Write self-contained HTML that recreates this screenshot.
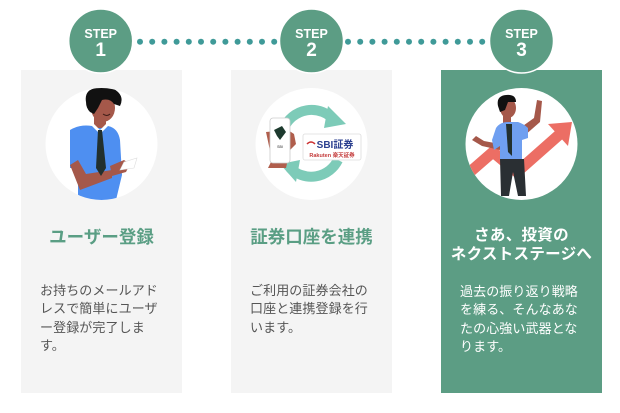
<!DOCTYPE html>
<html><head><meta charset="utf-8">
<style>
html,body{margin:0;padding:0;background:#fff;}
body{width:620px;height:413px;position:relative;overflow:hidden;font-family:"Liberation Sans","Noto Sans CJK JP",sans-serif;}
.card{position:absolute;top:70px;width:161px;height:323px;background:#f4f4f4;}
.t{position:absolute;white-space:nowrap;}
.title{font-weight:bold;font-size:17.5px;color:#5a9e84;text-align:center;width:161px;line-height:20px;}
.body{font-size:13px;color:#555;line-height:18.4px;letter-spacing:0.1px;}
.wt{color:#fff;}
svg{position:absolute;left:0;top:0;}
</style></head><body>
<div class="card" style="left:21px"></div>
<div class="card" style="left:231px"></div>
<div class="card" style="left:441px;background:#5c9d84"></div>

<svg width="620" height="413" viewBox="0 0 620 413">
  <!-- dots -->
  <g fill="#3f9a98">
    <circle cx="140" cy="41.7" r="3"/><circle cx="152.2" cy="41.7" r="3"/><circle cx="164.4" cy="41.7" r="3"/><circle cx="176.6" cy="41.7" r="3"/><circle cx="188.8" cy="41.7" r="3"/><circle cx="201" cy="41.7" r="3"/><circle cx="213.2" cy="41.7" r="3"/><circle cx="225.4" cy="41.7" r="3"/><circle cx="237.6" cy="41.7" r="3"/><circle cx="249.8" cy="41.7" r="3"/><circle cx="262" cy="41.7" r="3"/><circle cx="274.2" cy="41.7" r="3"/>
    <circle cx="348" cy="41.7" r="3"/><circle cx="360.2" cy="41.7" r="3"/><circle cx="372.4" cy="41.7" r="3"/><circle cx="384.6" cy="41.7" r="3"/><circle cx="396.8" cy="41.7" r="3"/><circle cx="409" cy="41.7" r="3"/><circle cx="421.2" cy="41.7" r="3"/><circle cx="433.4" cy="41.7" r="3"/><circle cx="445.6" cy="41.7" r="3"/><circle cx="457.8" cy="41.7" r="3"/><circle cx="470" cy="41.7" r="3"/><circle cx="482.2" cy="41.7" r="3"/>
  </g>
  <!-- step circles -->
  <g fill="#5c9d84" stroke="#fff" stroke-width="1.5">
    <circle cx="100.7" cy="41" r="32"/>
    <circle cx="311.5" cy="41" r="32"/>
    <circle cx="521.5" cy="41" r="32"/>
  </g>
  <g fill="#fff" font-family="Liberation Sans, sans-serif" font-weight="bold" text-anchor="middle">
    <text x="100.7" y="38" font-size="12.5">STEP</text>
    <text x="100.7" y="56" font-size="19">1</text>
    <text x="311.5" y="38" font-size="12.5">STEP</text>
    <text x="311.5" y="56" font-size="19">2</text>
    <text x="521.5" y="38" font-size="12.5">STEP</text>
    <text x="521.5" y="56" font-size="19">3</text>
  </g>
  <!-- illustration circles -->
  <circle cx="101.5" cy="144" r="56" fill="#fff"/>
  <circle cx="311.5" cy="144" r="56" fill="#fff"/>
  <circle cx="521.5" cy="144" r="56" fill="#fff"/>

  <!-- person 1 -->
  <defs><clipPath id="c1"><circle cx="101.5" cy="144" r="56"/></clipPath>
  <clipPath id="c3"><circle cx="521.5" cy="144" r="56"/></clipPath></defs>
  <g clip-path="url(#c1)">
    <path d="M70 130 Q80 124 92 126 L108 126 Q118 128 120 140 L122 175 L116 200 L78 200 L78 168 L70 168 Z" fill="#4e8ff1"/>
    <path d="M70 165 L80 190 L112 178 L112 170 L86 174 L78 160 Z" fill="#a5584a"/>
    <rect x="94" y="112" width="12" height="16" fill="#a5584a"/>
    <path d="M92 126 L100 134 L108 126 L106 124 L100 130 L94 124 Z" fill="#fff"/>
    <path d="M98 130 L102 130 L106 168 L101 176 L96 168 Z" fill="#22302e"/>
    <ellipse cx="103" cy="108" rx="12" ry="14" fill="#a5584a"/>
    <path d="M86 102 Q84 90 96 88 Q110 84 118 92 Q124 98 120 106 L114 104 Q110 98 102 100 L98 108 L94 114 L90 112 Q86 108 86 102 Z" fill="#111"/>
    <path d="M103 114 Q107 117 110 114" stroke="#3a1a14" stroke-width="1" fill="none"/>
    <path d="M110 166 L124 160 L130 164 L126 172 L112 176 Z" fill="#a5584a"/>
    <path d="M120 170 L124 162 L137 158 L134 168 Z" fill="#fff" stroke="#ddd" stroke-width="0.6"/>
  </g>

  <!-- step 2 -->
  <g>
    <path d="M284 128 A30 30 0 0 1 334 120" stroke="#7dcbb8" stroke-width="10" fill="none"/>
    <path d="M328 106 L346 124 L324 128 Z" fill="#7dcbb8"/>
    <path d="M338 160 A30 30 0 0 1 290 168" stroke="#7dcbb8" stroke-width="10" fill="none"/>
    <path d="M296 182 L280 164 L300 160 Z" fill="#7dcbb8"/>
    <path d="M266 132 L272 160 L268 168 L286 168 L290 150 L296 144 L294 134 L288 130 Z" fill="#b05e4c"/>
    <rect x="270" y="118" width="20" height="45" rx="3" fill="#fff" stroke="#ccc" stroke-width="0.8"/>
    <path d="M274 130 L282 126 L286 132 L280 140 L277 136 Z" fill="#1d3a2e"/>
    <text x="280" y="148" font-size="3.5" text-anchor="middle" fill="#222" font-family="Liberation Sans, sans-serif">SBI</text>
    <rect x="303" y="134" width="58" height="26" rx="2" fill="#fff" stroke="#ddd" stroke-width="0.8"/>
    <text x="335" y="148" font-size="10" text-anchor="middle" fill="#2b3f8f" font-weight="bold" font-family="Liberation Sans, 'Noto Sans CJK JP', sans-serif">SBI証券</text>
    <text x="332" y="157" font-size="5.5" text-anchor="middle" fill="#c43c3c" font-weight="bold" font-family="Liberation Sans, 'Noto Sans CJK JP', sans-serif">Rakuten 楽天証券</text>
    <path d="M307 144 Q311 140 315 144" stroke="#c33" stroke-width="1.5" fill="none"/>
  </g>

  <!-- step 3 -->
  <g clip-path="url(#c3)">
    <polyline points="470,172 493,152 517,172 560,134" fill="none" stroke="#ec6e64" stroke-width="11" stroke-linejoin="miter"/>
    <path d="M548 124 L572 122 L568 146 Z" fill="#ec6e64"/>
    <path d="M472 140 L482 146 L500 150 L500 144 L484 141 L476 136 Z" fill="#a5584a"/>
    <path d="M520 128 L534 118 L537 100 L542 101 L540 122 L524 136 Z" fill="#a5584a"/>
    <rect x="503" y="116" width="8" height="10" fill="#a5584a"/>
    <path d="M496 128 Q500 122 508 122 L518 122 Q524 124 528 128 L528 138 L522 140 L522 160 L500 160 L500 146 L494 150 L492 140 Z" fill="#6f9ff0"/>
    <path d="M506 124 L508 152 L512 156 L512 124 Z" fill="#22302e"/>
    <path d="M500 159 L524 159 L526 196 L518 196 L513 172 L509 196 L501 196 Z" fill="#2a2f33"/>
    <ellipse cx="508" cy="108" rx="8" ry="10" fill="#a5584a"/>
    <path d="M498 106 Q496 96 506 95 Q516 94 516 102 L508 102 L505 110 L500 112 Z" fill="#111"/>
  </g>
</svg>

<div class="t title" style="left:21px;top:227px">ユーザー登録</div>
<div class="t title" style="left:231px;top:227px">証券口座を連携</div>
<div class="t title wt" style="left:441px;top:226px;font-size:15.5px;line-height:19px;letter-spacing:0.3px">さあ、投資の<br>ネクストステージへ</div>

<div class="t body" style="left:40px;top:282px">お持ちのメールアド<br>レスで簡単にユーザ<br>ー登録が完了しま<br>す。</div>
<div class="t body" style="left:250px;top:282px">ご利用の証券会社の<br>口座と連携登録を行<br>います。</div>
<div class="t body wt" style="left:460px;top:283px">過去の振り返り戦略<br>を練る、そんなあな<br>たの心強い武器とな<br>ります。</div>
</body></html>
